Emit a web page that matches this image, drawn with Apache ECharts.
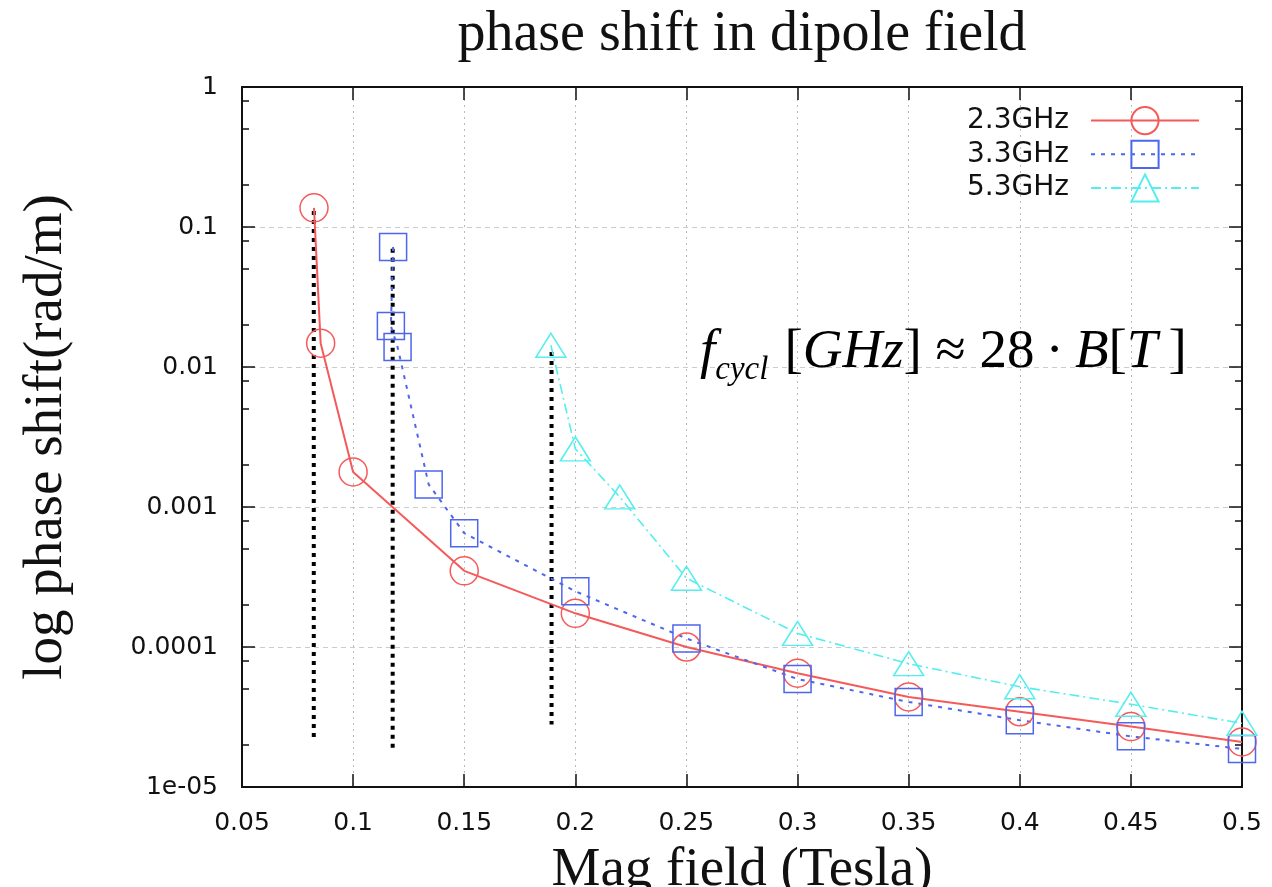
<!DOCTYPE html>
<html>
<head>
<meta charset="utf-8">
<script src="https://cdn.jsdelivr.net/npm/echarts@6/dist/echarts.min.js"></script>
<style>html,body{margin:0;padding:0;background:#fff}#c{width:1272px;height:887px}</style>
</head>
<body>
<div id="c"></div>
<script>
// ---- data ----
const x23 = [0.0824, 0.0854, 0.1, 0.15, 0.2, 0.25, 0.3, 0.35, 0.4, 0.45, 0.5];
const y23 = [0.137, 0.0148, 0.00178, 0.00035, 0.000174, 0.0001, 6.5e-5, 4.4e-5, 3.45e-5, 2.7e-5, 2.1e-5];
const x33 = [0.118, 0.117, 0.12, 0.134, 0.15, 0.2, 0.25, 0.3, 0.35, 0.4, 0.45, 0.5];
const y33 = [0.072, 0.0196, 0.0139, 0.00145, 0.00065, 0.00025, 0.000115, 5.9e-5, 4.05e-5, 3.0e-5, 2.3e-5, 1.87e-5];
const x53 = [0.189, 0.2, 0.22, 0.25, 0.3, 0.35, 0.4, 0.45, 0.5];
const y53 = [0.0143, 0.0026, 0.00118, 0.00031, 0.000125, 7.6e-5, 5.2e-5, 3.9e-5, 2.85e-5];
const cutX = [0.0823, 0.1178, 0.1893];
const cutTop = [0.13, 0.07, 0.0128];
const cutBottom = [2.2e-5, 1.9e-5, 2.8e-5];
const seriesNames = ['2.3GHz', '3.3GHz', '5.3GHz'];
const yTickValues = [1e-5, 1e-4, 1e-3, 1e-2, 1e-1, 1];
const yTickLabels = ['1e-05', '0.0001', '0.001', '0.01', '0.1', '1'];
const yMinorTicks = [];
for (let e = -5; e < 0; e++) { [2, 5, 8].forEach(m => yMinorTicks.push(m * Math.pow(10, e))); }
const titleText = 'phase shift in dipole field';
const xName = 'Mag field (Tesla)';
const yName = 'log phase shift(rad/m)';

const zip = (xs, ys) => xs.map((x, i) => [x, ys[i]]);
const serif = 'Liberation Serif';
const sans = 'DejaVu Sans';

const chart = echarts.init(document.getElementById('c'));
const yLabelFmt = v => {
  const i = yTickValues.findIndex(t => Math.abs(Math.log10(t) - Math.log10(v)) < 1e-6);
  return i >= 0 ? yTickLabels[i] : '';
};
const cutSeries = cutX.map((x, i) => ({
  type: 'line', name: 'cut' + i, data: [[x, cutTop[i]], [x, cutBottom[i]]],
  symbol: 'none', silent: true, z: 1,
  lineStyle: { color: '#000', width: 4, type: [4, 5], cap: 'butt' }
}));
const tickStyle = { color: '#111', width: 1.5 };

chart.setOption({
  animation: false,
  backgroundColor: '#fff',
  title: {
    text: titleText, left: 737, top: 2, textAlign: 'center',
    textStyle: { fontFamily: serif, fontSize: 56, fontWeight: 'normal', color: '#111' }
  },
  grid: { left: 242, right: 30, top: 87, bottom: 100, containLabel: false, outerBoundsMode: 'none' },
  legend: {
    data: seriesNames, orient: 'vertical', right: 67, top: 101, align: 'right',
    itemWidth: 108, itemHeight: 34, itemGap: 4.5,
    textStyle: { fontFamily: sans, fontSize: 28, color: '#111', padding: [0, 17, 0, 0] }
  },
  xAxis: [{
    type: 'value', min: 0.05, max: 0.5, interval: 0.05,
    name: xName, nameLocation: 'middle', nameGap: 56,
    nameTextStyle: { fontFamily: serif, fontSize: 55, color: '#111' },
    axisLine: { onZero: false, lineStyle: { color: '#111', width: 2 } },
    axisTick: { inside: true, length: 13, lineStyle: tickStyle },
    axisLabel: { fontFamily: sans, fontSize: 25, color: '#111', margin: 24, formatter: v => String(+v.toFixed(2)) },
    splitLine: { show: true, lineStyle: { color: '#bbb', type: [2, 4], width: 1 } }
  }, {
    type: 'value', min: 0.05, max: 0.5, interval: 0.05, position: 'top',
    axisLine: { onZero: false, lineStyle: { color: '#111', width: 2 } },
    axisTick: { inside: true, length: 13, lineStyle: tickStyle },
    axisLabel: { show: false }, splitLine: { show: false }
  }],
  yAxis: [{
    type: 'log', logBase: 10, min: 1e-5, max: 1,
    name: yName, nameLocation: 'middle', nameGap: 168,
    nameTextStyle: { fontFamily: serif, fontSize: 55, color: '#111' },
    axisLine: { onZero: false, lineStyle: { color: '#111', width: 2 } },
    axisTick: { inside: true, length: 13, lineStyle: tickStyle },
    axisLabel: { fontFamily: sans, fontSize: 25, color: '#111', margin: 24, formatter: yLabelFmt },
    splitLine: { show: true, lineStyle: { color: '#ccc', type: [5, 4], width: 1 } }
  }, {
    type: 'log', logBase: 10, min: 1e-5, max: 1, position: 'right',
    axisLine: { onZero: false, lineStyle: { color: '#111', width: 2 } },
    axisTick: { inside: true, length: 13, lineStyle: tickStyle },
    axisLabel: { show: false }, splitLine: { show: false }
  }, {
    type: 'log', logBase: 10, min: 1e-5, max: 1, position: 'left',
    axisLine: { show: false },
    axisTick: { inside: true, length: 7, customValues: yMinorTicks, lineStyle: tickStyle },
    axisLabel: { show: false }, splitLine: { show: false }
  }, {
    type: 'log', logBase: 10, min: 1e-5, max: 1, position: 'right',
    axisLine: { show: false },
    axisTick: { inside: true, length: 7, customValues: yMinorTicks, lineStyle: tickStyle },
    axisLabel: { show: false }, splitLine: { show: false }
  }],
  series: [
    ...cutSeries,
    {
      type: 'line', name: seriesNames[0], data: zip(x23, y23), clip: false, z: 3,
      symbol: 'circle', symbolSize: 28,
      lineStyle: { color: '#f55a5a', width: 2 },
      itemStyle: { color: 'rgba(0,0,0,0)', borderColor: '#f55a5a', borderWidth: 1.5 }
    },
    {
      type: 'line', name: seriesNames[1], data: zip(x33, y33), clip: false, z: 3,
      symbol: 'rect', symbolSize: 27,
      lineStyle: { color: '#4d66ee', width: 2, type: [4, 6] },
      itemStyle: { color: 'rgba(0,0,0,0)', borderColor: '#4d66ee', borderWidth: 1.5 }
    },
    {
      type: 'line', name: seriesNames[2], data: zip(x53, y53), clip: false, z: 3,
      symbol: 'triangle', symbolSize: [30, 24],
      lineStyle: { color: '#55eeee', width: 1.6, type: [10, 4, 2, 4] },
      itemStyle: { color: 'rgba(0,0,0,0)', borderColor: '#55eeee', borderWidth: 1.5 }
    }
  ],
  graphic: [{
    type: 'text', left: 700, top: 302, z: 10,
    style: {
      text: '{f|f}{sub|cycl}{n|[}{i|GHz}{n|] ≈ 28\u2009·\u2009}{i|B}{n|[}{i|T}{n|\u2009]}',
      rich: {
        f: { fontFamily: serif, fontStyle: 'italic', fontSize: 55, fill: '#000', verticalAlign: 'top', lineHeight: 62 },
        sub: { fontFamily: serif, fontStyle: 'italic', fontSize: 33, fill: '#000', verticalAlign: 'bottom', lineHeight: 62, padding: [52, 16, 0, 0] },
        n: { fontFamily: serif, fontSize: 55, fill: '#000', verticalAlign: 'top', lineHeight: 62 },
        i: { fontFamily: serif, fontStyle: 'italic', fontSize: 55, fill: '#000', verticalAlign: 'top', lineHeight: 62 }
      }
    }
  }]
});
</script>
</body>
</html>
